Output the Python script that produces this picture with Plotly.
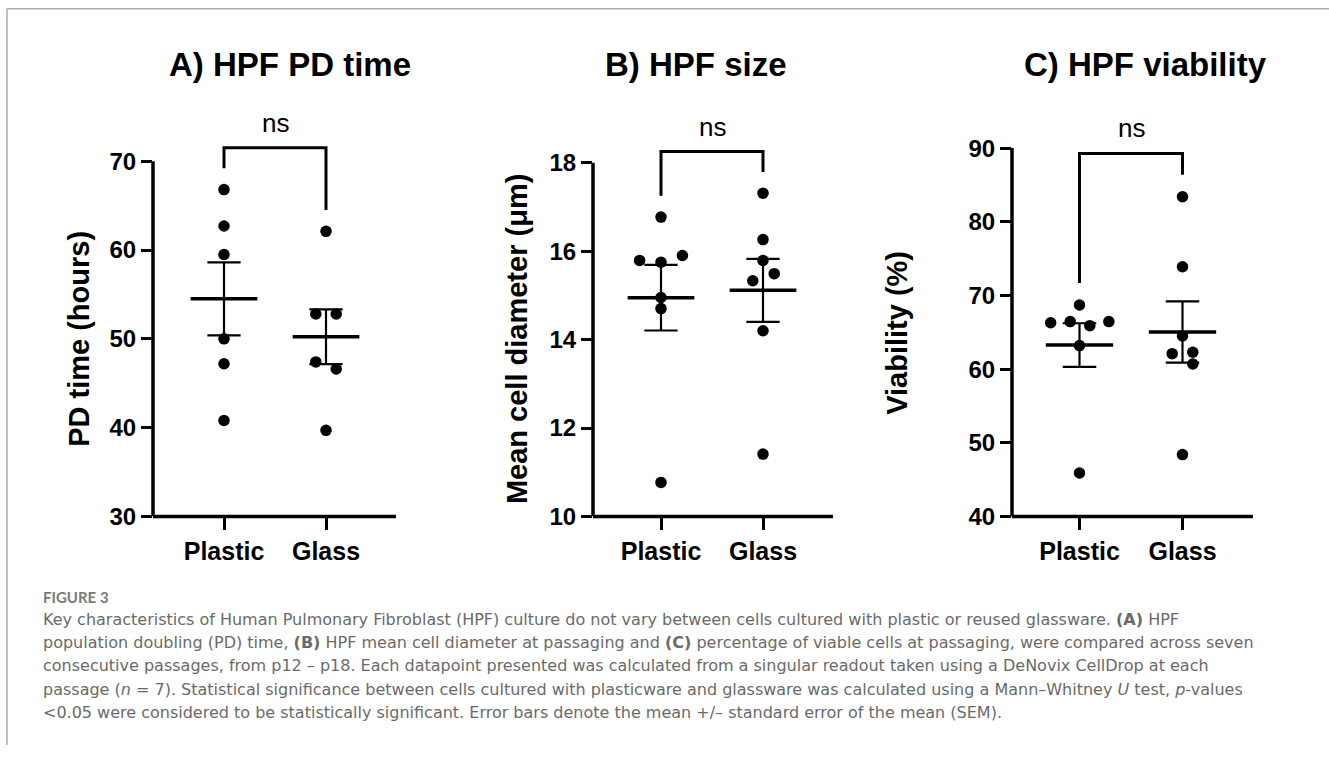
import numpy as np
import plotly.graph_objects as go

# ---------------- data ----------------
categories = ["Plastic", "Glass"]

pd_time_plastic = [66.8, 62.7, 59.5, 50.0, 47.2, 40.8]
pd_time_glass = [62.1, 52.8, 52.8, 47.4, 46.6, 39.7]

size_plastic = [16.77, 15.79, 15.75, 15.90, 14.95, 14.70, 10.77]
size_glass = [17.31, 16.26, 15.79, 15.49, 15.33, 14.20, 11.41]

viab_plastic = [68.7, 66.3, 66.45, 65.9, 66.45, 63.2, 45.9]
viab_glass = [83.4, 73.9, 64.5, 62.1, 62.3, 60.7, 48.4]

panel_titles = ["A) HPF PD time", "B) HPF size", "C) HPF viability"]
y_titles = ["PD time (hours)", "Mean cell diameter (\u03bcm)", "Viability (%)"]
y_ticks = [[30, 40, 50, 60, 70], [10, 12, 14, 16, 18], [40, 50, 60, 70, 80, 90]]
sig_labels = ["ns", "ns", "ns"]

caption_label = "FIGURE 3"
caption_lines = [
    "Key characteristics of Human Pulmonary Fibroblast (HPF) culture do not vary between cells cultured with plastic or reused glassware. <b>(A)</b> HPF",
    "population doubling (PD) time, <b>(B)</b> HPF mean cell diameter at passaging and <b>(C)</b> percentage of viable cells at passaging, were compared across seven",
    "consecutive passages, from p12 \u2013 p18. Each datapoint presented was calculated from a singular readout taken using a DeNovix CellDrop at each",
    "passage (<i>n</i> = 7). Statistical significance between cells cultured with plasticware and glassware was calculated using a Mann\u2013Whitney <i>U</i> test, <i>p</i>-values",
    "&lt;0.05 were considered to be statistically significant. Error bars denote the mean +/\u2013 standard error of the mean (SEM).",
]

groups = [
    (pd_time_plastic, pd_time_glass),
    (size_plastic, size_glass),
    (viab_plastic, viab_glass),
]

# ---------------- layout / style (pixels) ----------------
W, H = 1329, 758
jitter = [
    ([0, 0, 0, 0, 0, 0], [0, -0.1, 0.1, -0.1, 0.1, 0]),
    ([0, -0.21, 0, 0.21, 0, 0, 0], [0, 0, 0, 0.11, -0.1, 0, 0]),
    ([0, -0.28, -0.09, 0.1, 0.285, 0, 0], [0, 0, 0, -0.1, 0.1, 0.1, 0]),
]
geom = [
    dict(x0=153, x1=396, c0=224, c1=326, ytop=164, ybot=525.5, tx=289.5, ax=79),
    dict(x0=593, x1=833, c0=661, c1=763, ytop=165.5, ybot=525.5, tx=696, ax=516.5),
    dict(x0=1012, x1=1253, c0=1079.5, c1=1182.5, ytop=150.7, ybot=525.5, tx=1145, ax=897.5),
]
DOM_TOP = 100
ARIAL = "Arial, Liberation Sans, sans-serif"
CAP_FONT = "DejaVu Sans, sans-serif"
AXIS_W = 3.5
MEAN_HW, CAP_HW = 0.327, 0.163

fig = go.Figure()
shapes = []
annotations = []

for i in range(3):
    g = geom[i]
    xs = "" if i == 0 else str(i + 1)
    xa, ya = "x" + xs, "y" + xs
    ticks = y_ticks[i]
    ymin, ymax = ticks[0], ticks[-1]
    per_px = (ymax - ymin) / (g["ybot"] - g["ytop"])
    ytop_range = ymax + (g["ytop"] - DOM_TOP) * per_px
    step = g["c1"] - g["c0"]
    r0 = -(g["c0"] - g["x0"]) / step
    r1 = r0 + (g["x1"] - g["x0"]) / step

    for k, vals in enumerate(groups[i]):
        v = np.array(vals, dtype=float)
        xpos = k + np.array(jitter[i][k])
        mean = v.mean()
        sem = v.std(ddof=1) / np.sqrt(len(v))
        fig.add_trace(go.Scatter(x=xpos, y=v, mode="markers", xaxis=xa, yaxis=ya,
                                 marker=dict(color="black", size=11.5), cliponaxis=False,
                                 showlegend=False, hoverinfo="skip"))
        fig.add_trace(go.Scatter(x=[k, k], y=[mean - sem, mean + sem], mode="lines",
                                 xaxis=xa, yaxis=ya, line=dict(color="black", width=2.2),
                                 showlegend=False, hoverinfo="skip"))
        for yy in (mean - sem, mean + sem):
            fig.add_trace(go.Scatter(x=[k - CAP_HW, k + CAP_HW], y=[yy, yy], mode="lines",
                                     xaxis=xa, yaxis=ya, line=dict(color="black", width=2.2),
                                     showlegend=False, hoverinfo="skip"))
        fig.add_trace(go.Scatter(x=[k - MEAN_HW, k + MEAN_HW], y=[mean, mean], mode="lines",
                                 xaxis=xa, yaxis=ya, line=dict(color="black", width=3.5),
                                 showlegend=False, hoverinfo="skip"))

    # significance bracket
    span = ymax - ymin
    leg0 = max(groups[i][0]) + 0.06 * span
    leg1 = max(groups[i][1]) + 0.06 * span
    top = max(leg0, leg1) + 0.0575 * span
    fig.add_trace(go.Scatter(x=[0, 0, 1, 1], y=[leg0, top, top, leg1], mode="lines",
                             xaxis=xa, yaxis=ya, line=dict(color="black", width=3),
                             showlegend=False, hoverinfo="skip"))
    annotations.append(dict(x=0.5, y=top, xref=xa, yref=ya, text=sig_labels[i],
                            showarrow=False, xanchor="center", yanchor="bottom", yshift=8,
                            font=dict(family=ARIAL, size=26, color="black")))

    shapes.append(dict(type="line", xref=xa + " domain", yref=ya, x0=0, x1=0, y0=ymin, y1=ymax,
                       line=dict(color="black", width=AXIS_W)))
    shapes.append(dict(type="line", xref=xa + " domain", yref=ya + " domain", x0=0, x1=1, y0=0, y1=0,
                       line=dict(color="black", width=AXIS_W)))

    fig.update_layout(**{
        ("xaxis" + xs): dict(domain=[g["x0"] / W, g["x1"] / W], range=[r0, r1], anchor=ya,
                              tickvals=[0, 1], ticktext=categories, showline=False,
                              showgrid=False, zeroline=False, ticks="outside", ticklen=13,
                              tickwidth=3, tickcolor="black",
                              tickfont=dict(family=ARIAL, size=25, color="black", weight="bold")),
        ("yaxis" + xs): dict(domain=[1 - g["ybot"] / H, 1 - DOM_TOP / H], range=[ymin, ytop_range],
                              anchor=xa, tickvals=ticks, showline=False, showgrid=False,
                              zeroline=False, ticks="outside", ticklen=11, tickwidth=3,
                              tickcolor="black",
                              tickfont=dict(family=ARIAL, size=24, color="black", weight="bold")),
    })

    annotations.append(dict(x=g["tx"] / W, y=1 - 66 / H, xref="paper", yref="paper",
                            text=panel_titles[i], showarrow=False, xanchor="center",
                            yanchor="middle",
                            font=dict(family=ARIAL, size=33, color="black", weight="bold")))
    annotations.append(dict(x=g["ax"] / W, y=1 - ((g["ytop"] + g["ybot"]) / 2) / H,
                            xref="paper", yref="paper", text=y_titles[i], textangle=-90,
                            showarrow=False, xanchor="center", yanchor="middle",
                            font=dict(family=ARIAL, size=29, color="black", weight="bold")))

# caption
annotations.append(dict(x=41 / W, y=1 - 607 / H, xref="paper", yref="paper", text=caption_label,
                        showarrow=False, xanchor="left", yanchor="middle",
                        font=dict(family="Lato, sans-serif", size=15, color="#7a7a7a", weight="bold")))
for j, line in enumerate(caption_lines):
    annotations.append(dict(x=41 / W, y=1 - (630 + 23.7 * j) / H, xref="paper", yref="paper",
                            text=line, showarrow=False, xanchor="left", yanchor="middle",
                            font=dict(family=CAP_FONT, size=16, color="#6a6a6a")))

shapes.append(dict(type="line", xref="paper", yref="paper", x0=7 / W, x1=1, y0=1 - 9 / H, y1=1 - 9 / H,
                   line=dict(color="#ababab", width=1.5)))
shapes.append(dict(type="line", xref="paper", yref="paper", x0=7 / W, x1=7 / W, y0=0, y1=1 - 9 / H,
                   line=dict(color="#ababab", width=1.5)))

fig.update_layout(width=W, height=H, margin=dict(l=0, r=0, t=0, b=0),
                  paper_bgcolor="white", plot_bgcolor="white",
                  shapes=shapes, annotations=annotations, showlegend=False)

fig.write_html("out.html", config={"displayModeBar": False})
